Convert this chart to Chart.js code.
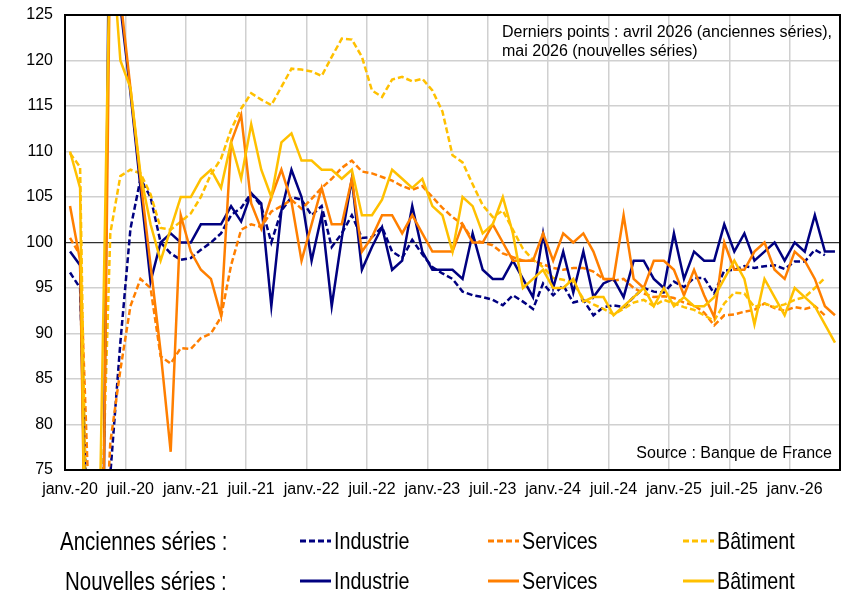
<!DOCTYPE html>
<html>
<head>
<meta charset="utf-8">
<script src="https://cdn.jsdelivr.net/npm/chart.js@4/dist/chart.umd.min.js"></script>
<style>
html,body{margin:0;padding:0;background:#fff;}
#wrap{position:relative;width:865px;height:608px;overflow:hidden;font-family:"Liberation Sans",Arial,sans-serif;color:#000;}
#c{position:absolute;left:0;top:0;}
.note{position:absolute;font-size:16px;line-height:19px;white-space:nowrap;}
.lt{position:absolute;white-space:nowrap;line-height:28px;transform-origin:left center;transform:scaleX(0.82);}
.sw{position:absolute;}
</style>
</head>
<body>
<div id="wrap">
<canvas id="c" width="865" height="608"></canvas>
<div class="note" style="left:502px;top:22px;">Derniers points : avril 2026 (anciennes séries),</div>
<div class="note" style="left:502px;top:41px;">mai 2026 (nouvelles séries)</div>
<div class="note" style="right:33px;top:443px;">Source : Banque de France</div>
<div id="legend"></div>
</div>
<script>
// ---- categories (monthly, janv. 2020 -> mai 2026) ----
const monthNames = ["janv.","févr.","mars","avr.","mai","juin","juil.","août","sept.","oct.","nov.","déc."];
const years = ["20","21","22","23","24","25","26"];
const months = [];
years.forEach(y => monthNames.forEach(m => months.push(m + "-" + y)));
months.length = 77; // up to mai-26

// tick labels shown on the x axis
const xTickLabels = ["janv.-20","juil.-20","janv.-21","juil.-21","janv.-22","juil.-22","janv.-23","juil.-23","janv.-24","juil.-24","janv.-25","juil.-25","janv.-26"];
const yTicks = [75, 80, 85, 90, 95, 100, 105, 110, 115, 120, 125];

// ---- anciennes séries (jusqu'à avril 2026) ----
const industrieAnciennes = [96.7,95,58,50,74.5,89,101.5,107,105,100,98.8,98.1,98.3,99.2,100,101,103,103.8,105.4,104,100,103.5,105,104.7,103,104,99.5,101,103,100.5,100.6,101.7,99,98.3,100.3,98.7,97.3,96.6,96,94.6,94.2,94,93.7,93.1,94.2,93.5,92.7,95.5,94.2,95.3,93.4,93.7,92,92.9,93.1,92.9,94,95,94.6,94.5,95.7,95.1,96.1,96.1,94.4,96.9,97,97.4,97.2,97.4,97.5,97.1,97.9,97.9,99.2,98.6];
const servicesAnciennes = [100.5,98.6,67,55,78,86,93,96,95,87.5,86.7,88.4,88.3,89.5,90,91.8,97.5,101.4,102,101.7,103.4,104,104.7,103.7,104.8,106,107,108.2,109,107.8,107.6,107.2,106.8,106.2,105.8,106.2,105,103.8,102.8,102,100.3,100,99.7,98.8,98.4,98,98,97.6,97.2,97,97.2,97.2,96.8,96,95.8,96,95,94.4,94,94.1,93.9,93.4,93.1,92.3,90.9,92,92.1,92.4,92.6,93.3,92.8,92.5,92.9,92.7,93,92];
const batimentAnciennes = [109.8,108.3,42,64,101,107.3,108,107.6,105.3,101.6,101.4,102.3,103.2,105,107.5,109.2,112.4,114.7,116.4,115.7,115.1,117.1,119.1,119,118.8,118.3,120.4,122.4,122.3,120.4,116.7,116,117.9,118.2,117.7,118,116.7,114.4,109.6,108.8,106.4,104.1,102.8,103.5,101.4,99.3,98.1,97.3,96.1,95.9,95.6,93.8,93.2,92.7,92.1,92.7,93.4,93.7,93,93.7,93.3,92.9,92.6,92,91.4,93.3,94.5,94.4,92.9,93.3,92.9,93.2,93.7,94,95,96.1];

// ---- nouvelles séries (jusqu'à mai 2026) ----
const industrieNouvelles = [99,97.5,40,30,150,126,116.5,106,95.7,100,101,100,100,102,102,102,104,102.3,105.4,104.3,93,103.5,108,105,98,103,93,100.5,107,97,99.5,101.7,97,98,104,99,97,97,97,96,101,97,96,96,98,96,94,101,95,99,94.5,99,94,95.5,96,94,98,98,96,95,101,96,99,98,98,102,99,101,98,99,100,98,100,99,103,99,99];
const servicesNouvelles = [104,98,30,40,135,127,117,107,97.5,88,77,103,99,97,96,92,111,114,104.3,101.5,105,108,104.5,98,102,106,102,102,107,99,100.6,103,103,101,103,101,99,99,99,102,100,100,102,100,98,98,98,101,98,101,100,101,99,96,96,103,96,95,98,98,97,94.2,97,94.2,91.8,100,97,97,99,100,97,96,99,98,96,93,92];
const batimentNouvelles = [110,106,20,73,135,120,117,107.5,102,98,101.5,105,105,107,108,106,111,107,113,108,105,111,112,109,109,108,108,107,108,103,103,104.7,108,107,106,107,104,103,99,105,104,101,102,105,101,95,96,97,95,95,96,93.5,94,94,92,93,94,95,93,95,93,94,93,93,94,96,98,96,91,96,94,92,95,94,93,91,89];

// ---- styles ----
const NAVY = "#000080", ORANGE = "#FF7F00", GOLD = "#FFC000";
const DASH = [6, 3];

const seriesDefs = [
  {label:"Industrie", group:"Anciennes séries", data:industrieAnciennes, color:NAVY, dashed:true, order:6},
  {label:"Services",  group:"Anciennes séries", data:servicesAnciennes,  color:ORANGE, dashed:true, order:5},
  {label:"Bâtiment",  group:"Anciennes séries", data:batimentAnciennes,  color:GOLD, dashed:true, order:4},
  {label:"Industrie", group:"Nouvelles séries", data:industrieNouvelles, color:NAVY, dashed:false, order:3},
  {label:"Services",  group:"Nouvelles séries", data:servicesNouvelles,  color:ORANGE, dashed:false, order:2},
  {label:"Bâtiment",  group:"Nouvelles séries", data:batimentNouvelles,  color:GOLD, dashed:false, order:1}
];

Chart.defaults.font.family = "'Liberation Sans', Arial, sans-serif";
Chart.defaults.font.size = 16;
Chart.defaults.color = "#000";

const chart = new Chart(document.getElementById("c"), {
  type: "line",
  data: {
    labels: months,
    datasets: seriesDefs.map(s => ({
      label: s.label + " (" + s.group + ")",
      data: s.data,
      borderColor: s.color,
      backgroundColor: s.color,
      borderWidth: 2.5,
      borderDash: s.dashed ? DASH : [],
      pointRadius: 0,
      pointHoverRadius: 0,
      tension: 0,
      fill: false,
      clip: 0,
      order: s.order
    }))
  },
  options: {
    responsive: false,
    animation: false,
    devicePixelRatio: 1,
    layout: {padding: {top: 15, right: 25, bottom: 108, left: 0}},
    plugins: {legend: {display: false}, tooltip: {enabled: false}},
    scales: {
      x: {
        type: "category",
        offset: true,
        grid: {
          offset: true,
          drawTicks: false,
          color: ctx => (ctx.index > 0 && ctx.index % 6 === 0 && ctx.index < months.length) ? "#D0D0D0" : "rgba(0,0,0,0)",
          lineWidth: 1.5
        },
        border: {display: true, color: "#000", width: 2, z: 1},
        ticks: {
          autoSkip: false,
          maxRotation: 0,
          minRotation: 0,
          padding: 10,
          font: {size: 16},
          color: "#000",
          callback: function(v, i) {
            const lab = months[i];
            return xTickLabels.includes(lab) ? lab : "";
          }
        },
        afterFit(s) { s.height = 30; s.paddingLeft = 0; s.paddingRight = 0; }
      },
      xTop: {
        type: "category",
        position: "top",
        offset: true,
        grid: {display: false, drawTicks: false},
        border: {display: true, color: "#000", width: 2, z: 1},
        ticks: {display: false},
        afterFit(s) { s.height = 0; s.paddingLeft = 0; s.paddingRight = 0; }
      },
      y: {
        min: 75, max: 125,
        afterBuildTicks(s) { s.ticks = yTicks.map(v => ({value: v})); },
        grid: {
          drawTicks: false,
          color: ctx => ctx.tick && ctx.tick.value === 100 ? "#303030" : "#D0D0D0",
          lineWidth: ctx => ctx.tick && ctx.tick.value === 100 ? 1.2 : 1.5
        },
        border: {display: true, color: "#000", width: 2, z: 1},
        ticks: {padding: 12, font: {size: 16}, color: "#000"},
        afterFit(s) { s.width = 65; s.paddingTop = 0; s.paddingBottom = 0; }
      },
      yRight: {
        position: "right",
        min: 75, max: 125,
        grid: {display: false, drawTicks: false},
        border: {display: true, color: "#000", width: 2, z: 1},
        ticks: {display: false},
        afterFit(s) { s.width = 0; s.paddingTop = 0; s.paddingBottom = 0; }
      }
    }
  }
});

// ---- legend (HTML, real text) ----
const leg = document.getElementById("legend");
const rows = [
  {title: "Anciennes séries :", titleLeft: 60, cy: 541, dashed: true},
  {title: "Nouvelles séries :", titleLeft: 65, cy: 581, dashed: false}
];
const cols = [
  {label: "Industrie", color: NAVY, sx: 300, tx: 334},
  {label: "Services", color: ORANGE, sx: 488, tx: 522},
  {label: "Bâtiment", color: GOLD, sx: 683, tx: 717}
];
rows.forEach(r => {
  const t = document.createElement("div");
  t.className = "lt";
  t.style.fontSize = "25px";
  t.style.left = r.titleLeft + "px";
  t.style.top = (r.cy - 14) + "px";
  t.textContent = r.title;
  leg.appendChild(t);
  cols.forEach(c => {
    const sw = document.createElementNS("http://www.w3.org/2000/svg", "svg");
    sw.setAttribute("class", "sw");
    sw.setAttribute("width", "31");
    sw.setAttribute("height", "6");
    sw.style.left = c.sx + "px";
    sw.style.top = (r.cy - 3) + "px";
    const ln = document.createElementNS("http://www.w3.org/2000/svg", "line");
    ln.setAttribute("x1", "0"); ln.setAttribute("y1", "3");
    ln.setAttribute("x2", "31"); ln.setAttribute("y2", "3");
    ln.setAttribute("stroke", c.color);
    ln.setAttribute("stroke-width", "3");
    if (r.dashed) ln.setAttribute("stroke-dasharray", "6,3");
    sw.appendChild(ln);
    leg.appendChild(sw);
    const lt = document.createElement("div");
    lt.className = "lt";
    lt.style.fontSize = "24px";
    lt.style.left = c.tx + "px";
    lt.style.top = (r.cy - 14) + "px";
    lt.textContent = c.label;
    leg.appendChild(lt);
  });
});
</script>
</body>
</html>
